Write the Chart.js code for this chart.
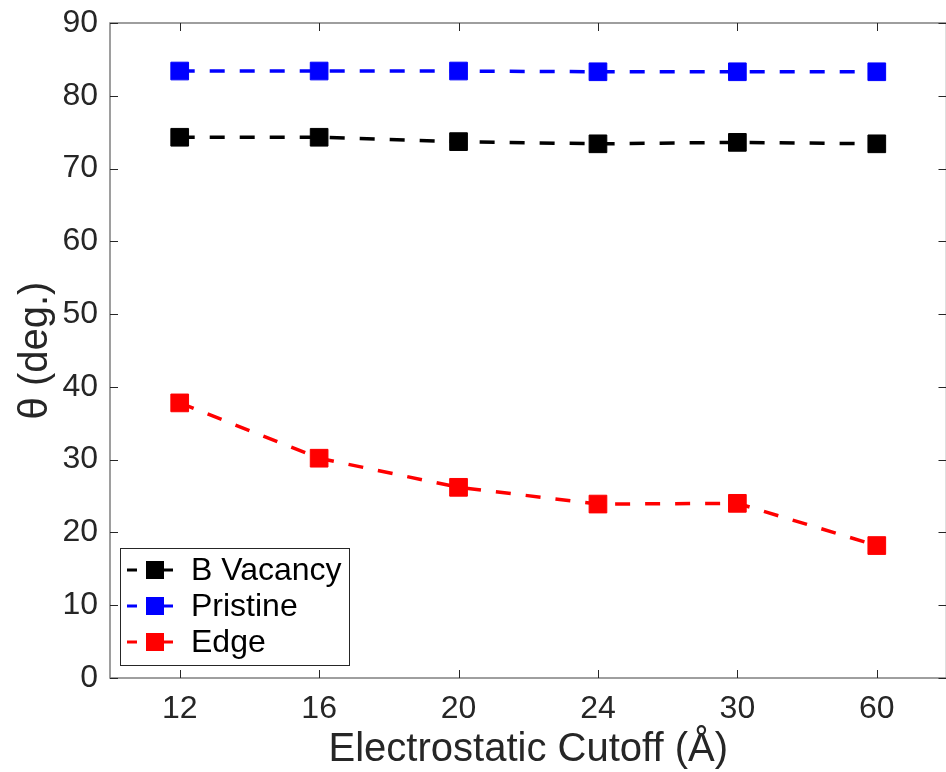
<!DOCTYPE html>
<html>
<head>
<meta charset="utf-8">
<script src="https://cdn.jsdelivr.net/npm/chart.js@4.4.1/dist/chart.umd.min.js"></script>
<style>
  html, body { margin: 0; padding: 0; background: #fff; overflow: hidden; }
  #wrap { width: 960px; height: 772px; }
</style>
</head>
<body>
<div id="wrap"><canvas id="chartTheta"></canvas></div>
<script>
// data
const cutoffs = ['12', '16', '20', '24', '30', '60'];
const bVacancy = [74.3, 74.3, 73.7, 73.4, 73.6, 73.4];
const pristine = [83.4, 83.4, 83.4, 83.3, 83.3, 83.3];
const edge = [37.8, 30.2, 26.2, 23.9, 24.0, 18.2];
const yTicks = [0, 10, 20, 30, 40, 50, 60, 70, 80, 90];

const fontFam = '"Liberation Sans", Arial, Helvetica, sans-serif';

function series(label, data, color) {
    return {
        label: label,
        data: data,
        borderColor: color,
        backgroundColor: color,
        borderWidth: 3.5,
        borderDash: [15, 15],
        pointStyle: 'rect',
        pointRadius: 12.5,
        pointHoverRadius: 12.5,
        pointBorderWidth: 1,
        tension: 0
    };
}

// box + inward ticks (MATLAB style) and the legend in the lower-left corner
const framePlugin = {
    id: 'frame',
    afterDraw(chart) {
        const { ctx, chartArea: a, scales } = chart;
        ctx.save();
        ctx.strokeStyle = '#7f7f7f';
        ctx.lineWidth = 1.5;
        ctx.strokeRect(a.left, a.top, a.right - a.left, a.bottom - a.top);
        ctx.strokeStyle = '#262626';
        ctx.lineWidth = 1;
        ctx.beginPath();
        yTicks.forEach(v => {
            const y = Math.round(scales.y.getPixelForValue(v)) + 0.5;
            ctx.moveTo(a.left, y); ctx.lineTo(a.left + 8, y);
            ctx.moveTo(a.right, y); ctx.lineTo(a.right - 8, y);
        });
        cutoffs.forEach((c, i) => {
            const x = Math.round(scales.x.getPixelForValue(i)) + 0.5;
            ctx.moveTo(x, a.bottom); ctx.lineTo(x, a.bottom - 8);
            ctx.moveTo(x, a.top); ctx.lineTo(x, a.top + 8);
        });
        ctx.stroke();

        // legend
        const lx = 120, ly = 548, lw = 229, lh = 117;
        ctx.fillStyle = '#fff';
        ctx.fillRect(lx, ly, lw, lh);
        ctx.strokeStyle = '#262626';
        ctx.lineWidth = 1;
        ctx.strokeRect(lx + 0.5, ly + 0.5, lw, lh);
        ctx.font = '32px ' + fontFam;
        ctx.textBaseline = 'middle';
        chart.data.datasets.forEach((ds, i) => {
            const y = 570 + i * 36;
            ctx.strokeStyle = ds.borderColor;
            ctx.lineWidth = 3;
            ctx.beginPath();
            ctx.moveTo(127, y); ctx.lineTo(137, y);
            ctx.moveTo(163, y); ctx.lineTo(173, y);
            ctx.stroke();
            ctx.fillStyle = ds.borderColor;
            ctx.fillRect(146, y - 9, 18, 18);
            ctx.fillStyle = '#000';
            ctx.fillText(ds.label, 191, y + 1);
        });
        ctx.restore();
    }
};

const ctx = document.getElementById('chartTheta').getContext('2d');
new Chart(ctx, {
    type: 'line',
    data: {
        labels: cutoffs,
        datasets: [
            series('B Vacancy', bVacancy, '#000000'),
            series('Pristine', pristine, '#0000ff'),
            series('Edge', edge, '#ff0000')
        ]
    },
    options: {
        responsive: true,
        maintainAspectRatio: false,
        animation: false,
        layout: { padding: { top: 23, right: 10, left: 0, bottom: 0 } },
        plugins: {
            legend: { display: false },
            tooltip: { enabled: false }
        },
        scales: {
            x: {
                type: 'category',
                offset: true,
                grid: { display: false, drawTicks: false },
                border: { display: false },
                ticks: {
                    color: '#262626',
                    font: { family: fontFam, size: 32 },
                    padding: 12,
                    maxRotation: 0
                },
                title: {
                    display: true,
                    text: 'Electrostatic Cutoff (Å)',
                    color: '#262626',
                    font: { family: fontFam, size: 40 },
                    padding: { top: 0, bottom: -2 }
                },
                afterFit(scale) {
                    scale.height = 94;
                    scale.paddingLeft = 0;
                    scale.paddingRight = 0;
                }
            },
            y: {
                min: 0,
                max: 90,
                afterBuildTicks(scale) { scale.ticks = yTicks.map(v => ({ value: v })); },
                grid: { display: false, drawTicks: false },
                border: { display: false },
                ticks: {
                    color: '#262626',
                    font: { family: fontFam, size: 32 },
                    padding: 12
                },
                title: {
                    display: true,
                    text: 'θ (deg.)',
                    color: '#262626',
                    font: { family: fontFam, size: 40 },
                    padding: { top: 12, bottom: 0 }
                },
                afterFit(scale) {
                    scale.width = 110;
                    scale.paddingTop = 0;
                    scale.paddingBottom = 0;
                }
            }
        }
    },
    plugins: [framePlugin]
});
</script>
</body>
</html>
